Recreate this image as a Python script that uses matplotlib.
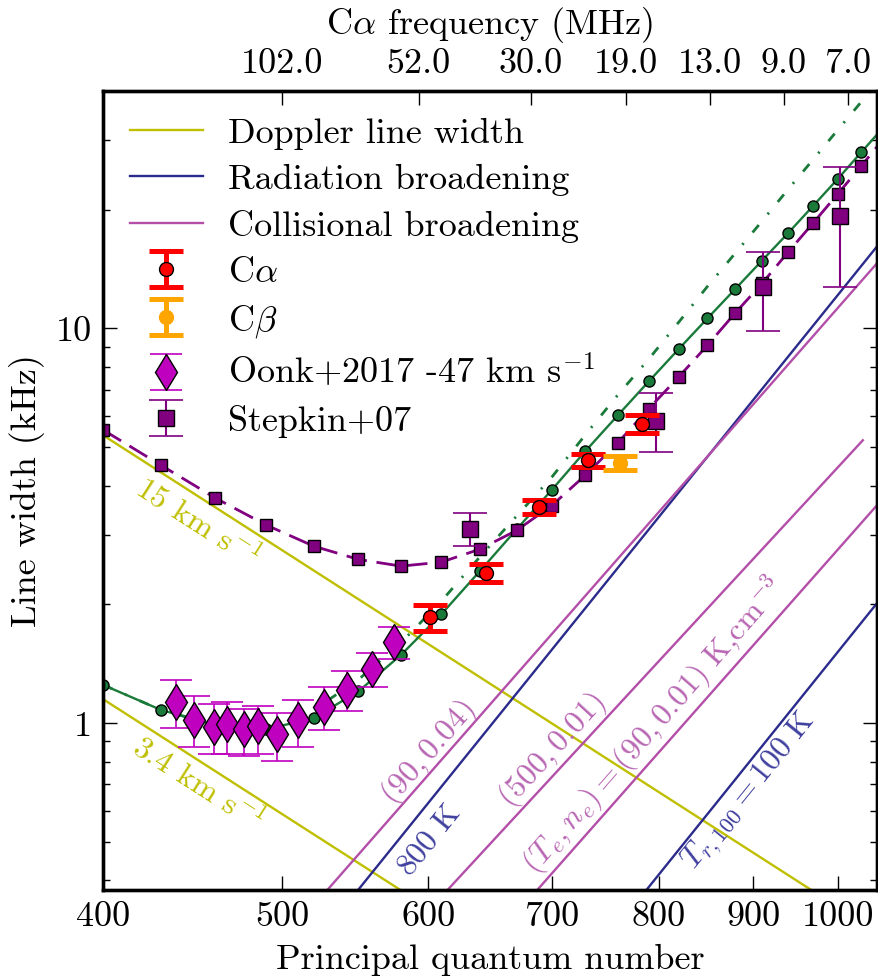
import matplotlib
matplotlib.use('Agg')
import matplotlib.pyplot as plt
from matplotlib.ticker import FixedLocator, FixedFormatter, NullLocator

plt.rcParams.update({
    'font.family': 'serif',
    'font.serif': ['cmr10'],
    'mathtext.fontset': 'cm',
    'axes.unicode_minus': False,
    'axes.formatter.use_mathtext': True,
    'font.size': 26,
    'lines.scale_dashes': False,
    'lines.markeredgewidth': 1.0,
})

# ---- model curves (markers every 30 in n) ----
model_n = [400, 430, 460, 490, 520, 550, 580, 610, 640, 670, 700, 730,
           760, 790, 820, 850, 880, 910, 940, 970, 1000, 1030, 1060]
model_green = [1.25, 1.08, 0.99, 0.965, 1.03, 1.205, 1.49, 1.89, 2.43, 3.1, 3.9, 4.89,
               6.02, 7.34, 8.86, 10.6, 12.58, 14.86, 17.43, 20.45, 23.9, 27.95, 32.5]
model_green_dashdot = [1.25, 1.08, 0.99, 0.99, 1.08, 1.29, 1.6, 2.04, 2.64, 3.35, 4.2, 5.38,
                       6.78, 8.36, 10.36, 12.77, 15.5, 18.7, 22.5, 26.8, 31.8, 37.5, 44.0]
model_purple = [5.53, 4.5, 3.72, 3.18, 2.81, 2.6, 2.5, 2.56, 2.76, 3.08, 3.56, 4.25,
                5.13, 6.26, 7.53, 9.06, 10.94, 13.0, 15.6, 18.5, 21.9, 25.8, 30.4]

# ---- broadening lines (end points) ----
doppler_n = [400, 1050]
doppler_15 = [5.36, 0.296]
doppler_34 = [1.15, 0.0636]
rad800_n, rad800_w = [540, 1050], [0.341, 16.1]
rad100_n, rad100_w = [780, 1050], [0.357, 2.01]
col_90_004_n, col_90_004_w = [520, 1050], [0.345, 14.6]
col_500_001_n, col_500_001_w = [610, 1032], [0.364, 5.21]
col_90_001_n, col_90_001_w = [680, 1050], [0.357, 3.56]

# ---- observations ----
calpha_n = [601, 645, 689, 732, 783]
calpha_w = [1.858, 2.403, 3.54, 4.63, 5.74]
calpha_hi = [1.99, 2.535, 3.686, 4.82, 6.04]
calpha_lo = [1.713, 2.278, 3.394, 4.46, 5.43]

cbeta_n = [762]
cbeta_w = [4.56]
cbeta_hi = [4.74]
cbeta_lo = [4.38]

oonk_n = [438, 448, 459, 467, 477, 485, 497, 510, 527, 542, 559, 575]
oonk_w = [1.132, 1.022, 0.979, 0.998, 0.969, 0.984, 0.938, 1.022, 1.10, 1.217, 1.37, 1.606]
oonk_hi = [1.29, 1.17, 1.117, 1.132, 1.089, 1.104, 1.064, 1.144, 1.236, 1.356, 1.507, 1.753]
oonk_lo = [0.975, 0.871, 0.838, 0.835, 0.825, 0.838, 0.803, 0.871, 0.964, 1.072, 1.236, 1.458]

stepkin_n = [632, 797, 911, 1003]
stepkin_w = [3.11, 5.84, 12.72, 19.32]
stepkin_hi = [3.40, 6.85, 15.59, 25.6]
stepkin_lo = [2.81, 4.86, 9.84, 12.76]

xticks_n = [400, 500, 600, 700, 800, 900, 1000]
top_tick_n = [500, 593, 682, 768, 853, 935, 1013]
top_tick_labels = ['102.0', '52.0', '30.0', '19.0', '13.0', '9.0', '7.0']

c_dop = '#bfbf00'
c_rad = '#2b2b8c'
c_col = '#b34fa8'
c_green = '#1a7a3a'
c_purple = '#800080'


def err(w, hi, lo):
    return [[a - b for a, b in zip(w, lo)], [b - a for a, b in zip(w, hi)]]


fig = plt.figure(figsize=(8.79, 9.77), dpi=100)
ax = fig.add_axes([0.1175, 0.0890, 0.8799, 0.8181])
ax.set_xscale('log')
ax.set_yscale('log')

ax.plot(doppler_n, doppler_15, color=c_dop, lw=1.7, label='Doppler line width')
ax.plot(doppler_n, doppler_34, color=c_dop, lw=1.7)
ax.plot(rad800_n, rad800_w, color=c_rad, lw=1.7, label='Radiation broadening')
ax.plot(rad100_n, rad100_w, color=c_rad, lw=1.7)
ax.plot(col_90_004_n, col_90_004_w, color=c_col, lw=1.7, label='Collisional broadening')
ax.plot(col_500_001_n, col_500_001_w, color=c_col, lw=1.7)
ax.plot(col_90_001_n, col_90_001_w, color=c_col, lw=1.7)

ax.plot(model_n, model_green_dashdot, color=c_green, lw=2, dashes=[7, 10, 1.5, 10])
ax.plot(model_n, model_green, color=c_green, lw=1.7, marker='o', ms=8, mec='k')
ax.plot(model_n, model_purple, color=c_purple, lw=2, dashes=[15, 7], marker='s',
        ms=8, mec='k')

# markeredgewidth comes from rcParams so capthick is not overridden
ax.errorbar(oonk_n, oonk_w, yerr=err(oonk_w, oonk_hi, oonk_lo), fmt='d', color='m',
            mec='k', ms=18, elinewidth=1.2, capsize=11.5, capthick=1.2,
            label=r'Oonk+2017 -47 km s$^{-1}$', zorder=5)
ax.errorbar(stepkin_n, stepkin_w, yerr=err(stepkin_w, stepkin_hi, stepkin_lo), fmt='s',
            color=c_purple, mec='k', ms=12, elinewidth=1.5, capsize=12,
            capthick=1.2, label='Stepkin+07', zorder=5)
ax.errorbar(calpha_n, calpha_w, yerr=err(calpha_w, calpha_hi, calpha_lo), fmt='o',
            color='r', mec='k', ms=10, elinewidth=3.6, capsize=12, capthick=3.6,
            label=r'C$\alpha$', zorder=6)
ax.errorbar(cbeta_n, cbeta_w, yerr=err(cbeta_w, cbeta_hi, cbeta_lo), fmt='o',
            color='orange', mec='orange', ms=10, elinewidth=3.6, capsize=12,
            capthick=3.6, label=r'C$\beta$', zorder=6)

ax.set_xlim(400, 1050)
ax.set_ylim(0.378, 40)

ax.xaxis.set_major_locator(FixedLocator(xticks_n))
ax.xaxis.set_major_formatter(FixedFormatter([str(v) for v in xticks_n]))
ax.xaxis.set_minor_locator(NullLocator())
ax.yaxis.set_major_locator(FixedLocator([1, 10]))
ax.yaxis.set_major_formatter(FixedFormatter(['1', '10']))
ax.tick_params(which='both', direction='in', right=True, top=False, width=1)
ax.tick_params(which='major', length=10, pad=8)
ax.tick_params(which='minor', length=5)
for s in ax.spines.values():
    s.set_linewidth(2.4)

ax.set_xlabel('Principal quantum number', labelpad=8)
ax.set_ylabel('Line width (kHz)', labelpad=8)

ax2 = ax.twiny()
ax2.set_xscale('log')
ax2.set_xlim(ax.get_xlim())
ax2.xaxis.set_major_locator(FixedLocator(top_tick_n))
ax2.xaxis.set_major_formatter(FixedFormatter(top_tick_labels))
ax2.xaxis.set_minor_locator(NullLocator())
ax2.tick_params(which='major', direction='in', length=10, width=1, pad=8)
ax2.set_xlabel(r'C$\alpha$ frequency (MHz)', labelpad=10)
for s in ax2.spines.values():
    s.set_linewidth(2.4)

# annotations along the lines
ax.text(450, 3.23, r'15 km s$^{-1}$', color=c_dop, fontsize=23, rotation=-32.7,
        ha='center', va='center', rotation_mode='anchor')
ax.text(450.5, 0.705, r'3.4 km s$^{-1}$', color=c_dop, fontsize=23, rotation=-32.7,
        ha='center', va='center', rotation_mode='anchor')
ax.text(600, 0.845, r'$(90,0.04)$', color='#b866b3', fontsize=23, rotation=48.8,
        ha='center', va='center', rotation_mode='anchor')
ax.text(601, 0.506, r'$800\ \mathrm{K}$', color='#3f3f9f', fontsize=23, rotation=51,
        ha='center', va='center', rotation_mode='anchor')
ax.text(700, 0.854, r'$(500,0.01)$', color='#b866b3', fontsize=23, rotation=47.5,
        ha='center', va='center', rotation_mode='anchor')
ax.text(795, 0.988, r'$(T_e,n_e)=(90,0.01)\ \mathrm{K{,}cm^{-3}}$', color='#b866b3',
        fontsize=23, rotation=48.8, ha='center', va='center', rotation_mode='anchor')
ax.text(896, 0.669, r'$T_{r,100}=100\ \mathrm{K}$', color='#3f3f9f', fontsize=23,
        rotation=51, ha='center', va='center', rotation_mode='anchor')

h, l = ax.get_legend_handles_labels()
order = [l.index(k) for k in ['Doppler line width', 'Radiation broadening',
                              'Collisional broadening', r'C$\alpha$', r'C$\beta$',
                              r'Oonk+2017 -47 km s$^{-1}$', 'Stepkin+07']]
ax.legend([h[i] for i in order], [l[i] for i in order], loc='upper left',
          frameon=False, handlelength=2.0, handletextpad=0.7, labelspacing=0.38,
          borderaxespad=0.35, fontsize=26)

fig.savefig('out.png', dpi=100)
